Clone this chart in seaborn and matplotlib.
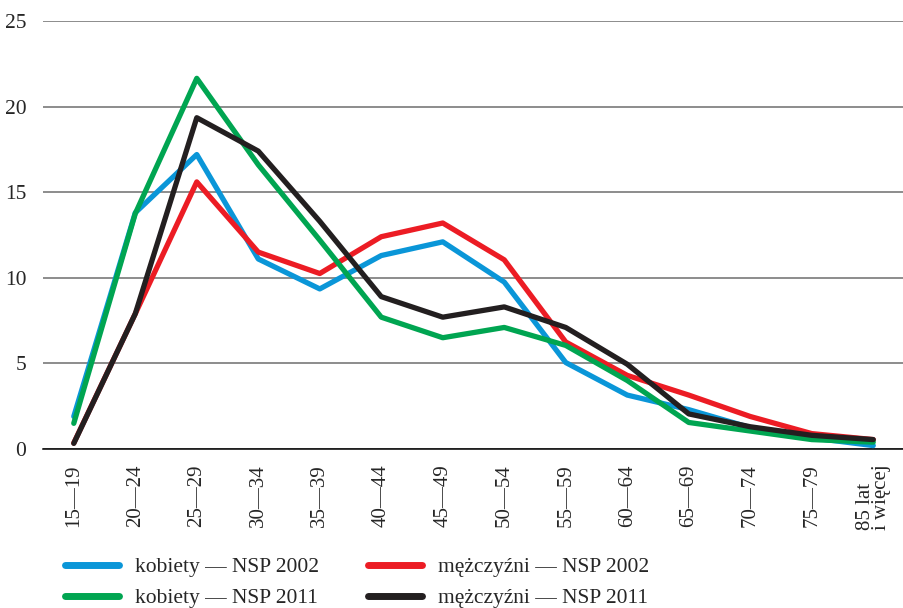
import numpy as np
import pandas as pd
import matplotlib
matplotlib.use("Agg")
import matplotlib.pyplot as plt
import seaborn as sns

# age groups (x axis)
age_groups = ["15—19", "20—24", "25—29", "30—34", "35—39", "40—44", "45—49",
              "50—54", "55—59", "60—64", "65—69", "70—74", "75—79", "85 lat\ni więcej"]

# percent values
kobiety_2002 = [1.9, 13.8, 17.2, 11.1, 9.35, 11.3, 12.1, 9.75, 5.05, 3.15, 2.3, 1.25, 0.65, 0.2]
mezczyzni_2002 = [0.35, 7.9, 15.6, 11.5, 10.25, 12.4, 13.2, 11.05, 6.25, 4.3, 3.15, 1.9, 0.9, 0.55]
kobiety_2011 = [1.5, 13.75, 21.65, 16.6, 12.2, 7.7, 6.5, 7.1, 6.05, 4.0, 1.55, 1.05, 0.55, 0.4]
mezczyzni_2011 = [0.33, 7.9, 19.35, 17.4, 13.3, 8.9, 7.7, 8.3, 7.1, 4.95, 2.05, 1.3, 0.8, 0.55]

series_names = ["kobiety — NSP 2002", "mężczyźni — NSP 2002",
                "kobiety — NSP 2011", "mężczyźni — NSP 2011"]
series_values = [kobiety_2002, mezczyzni_2002, kobiety_2011, mezczyzni_2011]
colors = ["#0a96d8", "#ec1c24", "#00a551", "#231f20"]

# long-form table for seaborn
x_pos = np.arange(len(age_groups))
df = pd.concat([pd.DataFrame({"x": x_pos, "value": vals, "seria": name})
                for name, vals in zip(series_names, series_values)], ignore_index=True)

sns.set_style("white")
plt.rcParams["font.family"] = ["Liberation Serif", "DejaVu Serif"]

fig = plt.figure(figsize=(9.04, 6.08), dpi=100)
ax = fig.add_axes([0.0476, 0.2615, 0.9524, 0.704])

sns.lineplot(data=df, x="x", y="value", hue="seria", hue_order=series_names,
             palette=dict(zip(series_names, colors)), linewidth=3.8,
             legend=False, ax=ax, zorder=3)

ax.set_xlim(-0.5, 13.5)
ax.set_ylim(0, 25)
ax.set_yticks([0, 5, 10, 15, 20, 25])
ax.yaxis.grid(True, color="#6d6d6d", linewidth=1.1)
ax.set_axisbelow(True)
ax.tick_params(axis="y", length=0, labelsize=15.5, pad=12)

# ticks on the boundaries, labels centred on categories
ax.set_xticks(np.arange(-0.5, 13, 1))
ax.set_xticklabels([])
ax.set_xticks(x_pos, minor=True)
ax.set_xticklabels(age_groups, minor=True, rotation=90, va="top", ha="center",
                   multialignment="left", fontsize=15, linespacing=0.8)
ax.tick_params(axis="x", which="major", length=7, width=1, color="black", direction="out")
ax.tick_params(axis="x", which="minor", length=0, pad=11)

for side in ["left", "right", "top"]:
    ax.spines[side].set_visible(False)
ax.spines["bottom"].set_color("black")
ax.spines["bottom"].set_linewidth(1.1)
ax.set_xlabel("")
ax.set_ylabel("")

handles = [plt.Line2D([], [], color=c, linewidth=5, solid_capstyle="round") for c in colors]
# order so that the 2002 series form the first row
fig.legend([handles[0], handles[2], handles[1], handles[3]],
           [series_names[0], series_names[2], series_names[1], series_names[3]],
           ncol=2, loc="upper left", bbox_to_anchor=(0.06, 0.101),
           frameon=False, fontsize=15.5, handlelength=2.5, handletextpad=0.75,
           columnspacing=2.3, labelspacing=0.5, borderpad=0)

fig.savefig("out.png", dpi=100)
